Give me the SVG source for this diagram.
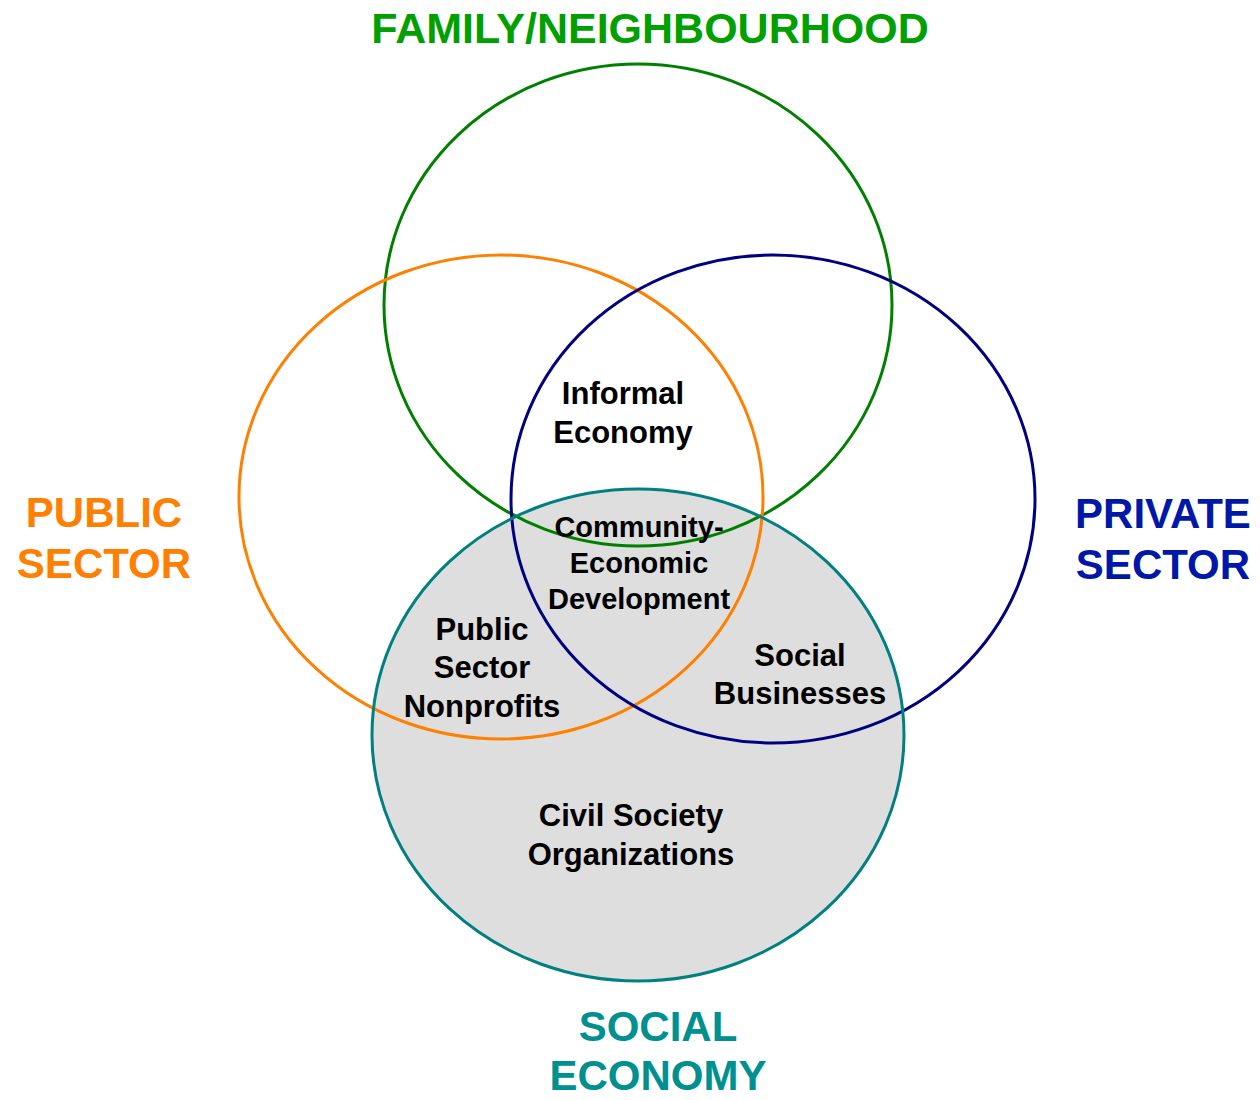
<svg xmlns="http://www.w3.org/2000/svg" width="1260" height="1100" viewBox="0 0 1260 1100">
<style>
.c{fill:none;stroke-width:3}
.t{font-family:"Liberation Sans",Arial,sans-serif;font-weight:bold;text-anchor:middle}
.big{font-size:42px}
.in{font-size:31px;fill:#000}
.mid{font-size:29px;fill:#000}
</style>
<rect width="1260" height="1100" fill="#fff"/>
<g id="social-economy-fill">
<ellipse cx="638" cy="735" rx="266" ry="246" fill="#dedede"/>
</g>
<g id="connectors"></g>
<g id="family-circle"><ellipse class="c" cx="638" cy="305" rx="254" ry="241" stroke="#008000"/></g>
<g id="public-circle"><ellipse class="c" cx="501" cy="497" rx="262" ry="242" stroke="#ff8000"/></g>
<g id="private-circle"><ellipse class="c" cx="773" cy="499" rx="262" ry="244" stroke="#000080"/></g>
<g id="social-circle"><ellipse class="c" cx="638" cy="735" rx="266" ry="246" stroke="#008080"/></g>
<g id="family-label"><text class="t" style="font-size:43px" x="650" y="43" fill="#00a000">FAMILY/NEIGHBOURHOOD</text></g>
<g id="public-label"><text class="t big" x="104" y="527" fill="#ff8000">PUBLIC</text><text class="t big" x="104" y="578" fill="#ff8000">SECTOR</text></g>
<g id="private-label"><text class="t big" x="1163" y="528" fill="#0018a8">PRIVATE</text><text class="t big" x="1163" y="579" fill="#0018a8">SECTOR</text></g>
<g id="social-label"><text class="t big" x="658" y="1041" fill="#009090">SOCIAL</text><text class="t big" x="658" y="1090" fill="#009090">ECONOMY</text></g>
<g id="informal"><text class="t in" x="623" y="404">Informal</text><text class="t in" x="623" y="443">Economy</text></g>
<g id="ced"><text class="t mid" x="639" y="537">Community-</text><text class="t mid" x="639" y="573">Economic</text><text class="t mid" x="639" y="609">Development</text></g>
<g id="psn"><text class="t in" x="482" y="640">Public</text><text class="t in" x="482" y="678">Sector</text><text class="t in" x="482" y="717">Nonprofits</text></g>
<g id="sb"><text class="t in" x="800" y="666">Social</text><text class="t in" x="800" y="704">Businesses</text></g>
<g id="cso"><text class="t in" x="631" y="826">Civil Society</text><text class="t in" x="631" y="865">Organizations</text></g>
</svg>
